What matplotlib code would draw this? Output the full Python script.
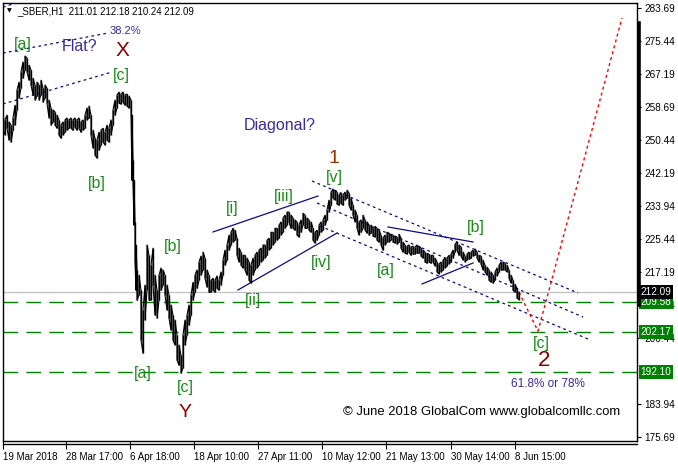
import matplotlib
matplotlib.use('Agg')
import matplotlib.pyplot as plt
from matplotlib.lines import Line2D
from matplotlib.transforms import blended_transform_factory

plt.rcParams['font.family'] = ['Liberation Sans', 'DejaVu Sans']

# ---------------- data (bar position, high, low) ----------------
bar_idx = [3, 5, 7, 9, 11, 13, 15, 17, 19, 21, 23, 25, 27, 29, 31, 33, 35, 37, 39, 41,
           43, 45, 47, 49, 51, 53, 55, 57, 59, 61, 63, 65, 67, 69, 71, 73, 75, 77, 79, 81,
           83, 85, 87, 89, 91, 93, 95, 97, 99, 101, 103, 105, 107, 109, 111, 113, 115, 117, 119, 121,
           123, 125, 127, 129, 131, 132, 133, 134, 135, 136, 137, 139, 141, 143, 145, 147, 149, 151, 153, 155,
           157, 159, 161, 163, 165, 167, 169, 171, 173, 175, 177, 179, 181, 183, 185, 187, 189, 191, 193, 195,
           197, 199, 201, 203, 205, 207, 209, 211, 213, 215, 217, 219, 221, 223, 225, 227, 229, 231, 233, 235,
           237, 239, 241, 243, 245, 247, 249, 251, 253, 255, 257, 259, 261, 263, 265, 267, 269, 271, 273, 275,
           277, 279, 281, 283, 285, 287, 289, 291, 293, 295, 297, 299, 301, 303, 305, 307, 309, 311, 313, 315,
           317, 319, 321, 323, 325, 327, 329, 331, 333, 335, 337, 339, 341, 343, 345, 347, 349, 351, 353, 355,
           357, 359, 361, 363, 365, 367, 369, 371, 373, 375, 377, 379, 381, 383, 385, 387, 389, 391, 393, 395,
           397, 399, 401, 403, 405, 407, 409, 411, 413, 415, 417, 419, 421, 423, 425, 427, 429, 431, 433, 435,
           437, 439, 441, 443, 445, 447, 449, 451, 453, 455, 457, 459, 461, 463, 465, 467, 469, 471, 473, 475,
           477, 479, 481, 483, 485, 487, 489, 491, 493, 495, 497, 499, 501, 503, 505, 507, 509, 511, 513, 515,
           517, 519]
high = [256.2, 255.5, 256.7, 255.0, 254.2, 256.0, 259.2, 263.0, 265.0, 267.6, 270.1, 271.6, 271.1, 269.3, 268.1, 266.0, 264.3, 265.0, 264.3, 265.5,
        263.5, 264.3, 263.5, 260.5, 258.5, 258.0, 257.5, 256.7, 255.5, 254.2, 255.0, 255.5, 256.0, 255.5, 256.0, 255.5, 256.0, 255.5, 256.0, 255.0,
        255.5, 256.7, 258.5, 259.0, 256.7, 252.9, 250.9, 250.4, 252.4, 252.9, 253.4, 252.4, 254.2, 253.4, 255.5, 258.0, 260.5, 261.8, 262.5, 262.0,
        262.5, 261.8, 262.0, 261.5, 260.5, 256.7, 245.4, 240.3, 229.8, 224.0, 217.7, 216.4, 212.6, 207.6, 213.9, 224.0, 221.4, 218.9, 223.2, 216.4,
        212.6, 216.4, 218.2, 217.7, 216.4, 213.9, 211.4, 208.9, 206.3, 205.1, 201.3, 198.8, 196.2, 201.3, 205.1, 206.3, 208.9, 211.4, 214.6, 216.4,
        217.7, 219.7, 221.2, 222.2, 220.7, 217.7, 216.4, 215.1, 215.6, 215.1, 216.2, 215.1, 217.2, 220.2, 222.7, 224.0, 226.5, 227.2, 228.2, 227.7,
        225.7, 223.2, 222.2, 221.4, 221.4, 220.7, 219.7, 218.9, 220.7, 221.4, 222.2, 222.7, 223.2, 224.0, 224.0, 225.2, 225.7, 227.2, 227.2, 228.2,
        228.2, 229.0, 229.8, 230.8, 231.5, 232.3, 232.3, 231.5, 230.8, 230.3, 229.8, 229.0, 230.3, 232.0, 231.5, 230.8, 230.3, 229.8, 228.2, 227.2,
        227.7, 229.0, 229.8, 230.3, 231.5, 232.8, 235.3, 237.3, 238.1, 237.8, 237.3, 236.6, 237.1, 236.6, 237.3, 237.8, 237.1, 235.8, 234.0, 232.8,
        231.5, 229.8, 230.3, 231.5, 230.3, 229.8, 229.0, 229.0, 228.2, 228.7, 228.2, 227.7, 226.5, 225.7, 226.5, 227.2, 227.0, 226.7, 226.5, 226.2,
        226.0, 226.7, 225.7, 224.7, 224.0, 223.7, 224.0, 223.5, 223.7, 223.5, 224.0, 223.7, 223.2, 222.7, 222.2, 221.9, 221.7, 221.4, 221.4, 220.7,
        219.7, 219.2, 219.7, 220.2, 220.7, 220.7, 221.4, 221.7, 222.7, 224.2, 224.7, 224.0, 223.5, 222.2, 221.2, 221.7, 222.2, 222.2, 222.7, 223.0,
        222.2, 221.4, 221.2, 220.2, 218.9, 218.4, 217.7, 217.2, 216.4, 217.2, 218.2, 218.9, 219.7, 219.7, 219.4, 218.9, 217.7, 216.4, 215.1, 214.1,
        213.1, 212.18]
low = [252.9, 251.7, 253.4, 250.4, 249.9, 252.9, 254.2, 258.0, 261.0, 263.5, 266.0, 268.1, 267.6, 265.5, 264.3, 261.8, 260.5, 261.5, 260.5, 261.8,
       260.0, 261.0, 259.7, 256.0, 254.2, 255.0, 254.2, 253.4, 251.7, 250.9, 251.7, 252.4, 252.9, 253.4, 253.4, 252.9, 253.7, 252.9, 253.4, 252.4,
       252.9, 253.4, 255.5, 256.0, 251.7, 248.4, 246.6, 245.9, 247.9, 249.2, 249.9, 249.2, 250.4, 249.9, 251.7, 254.2, 256.7, 258.5, 259.7, 259.5,
       260.0, 259.2, 259.0, 258.5, 256.7, 240.3, 239.1, 229.0, 219.7, 212.6, 210.1, 211.4, 200.0, 196.7, 205.1, 212.6, 210.1, 210.1, 213.9, 206.3,
       205.6, 210.1, 212.6, 213.9, 211.4, 207.6, 205.6, 202.5, 200.0, 198.8, 195.0, 193.7, 191.7, 193.0, 198.8, 201.3, 203.8, 206.3, 210.1, 212.1,
       213.1, 215.1, 216.4, 217.7, 215.6, 213.4, 212.1, 212.1, 212.6, 212.1, 213.1, 212.6, 213.9, 216.4, 218.9, 220.2, 222.7, 224.0, 224.7, 225.2,
       221.4, 219.7, 218.9, 218.2, 217.7, 216.4, 215.1, 214.4, 216.4, 217.7, 218.2, 218.9, 219.7, 220.2, 220.7, 221.4, 222.7, 223.2, 224.0, 224.7,
       225.2, 225.7, 226.5, 227.2, 228.2, 229.0, 229.8, 228.2, 228.2, 227.7, 226.5, 226.0, 227.2, 229.0, 228.2, 228.2, 227.7, 227.2, 225.2, 224.5,
       225.2, 226.5, 227.2, 227.7, 229.0, 230.3, 232.3, 234.0, 235.8, 235.3, 234.3, 234.0, 234.5, 234.0, 235.3, 235.8, 234.0, 232.8, 231.5, 229.8,
       228.2, 226.5, 227.2, 228.2, 227.7, 227.0, 226.5, 227.0, 226.2, 226.0, 225.2, 224.7, 224.0, 222.7, 224.0, 224.7, 224.7, 225.2, 224.7, 224.5,
       224.2, 224.7, 223.2, 222.2, 221.9, 221.7, 222.2, 221.4, 221.7, 221.7, 221.9, 221.9, 221.2, 220.7, 219.7, 219.4, 219.7, 219.4, 219.7, 218.7,
       217.2, 216.7, 217.2, 217.7, 218.2, 218.7, 219.2, 219.7, 220.7, 222.2, 222.7, 221.4, 221.2, 220.2, 219.7, 220.2, 220.4, 220.7, 221.2, 221.4,
       220.7, 219.7, 219.2, 217.7, 217.2, 216.4, 215.1, 214.6, 214.4, 215.1, 216.2, 217.2, 217.7, 217.7, 217.7, 217.2, 215.6, 214.4, 212.6, 212.1,
       210.6, 210.24]

# horizontal levels
last_price = 212.09
fib_levels = [209.58, 202.17, 192.10]

# y axis ticks (192.19 sits fully under the 192.10 box, so it is not drawn)
y_ticks = [283.69, 275.44, 267.19, 258.69, 250.44, 242.19, 233.94, 225.44, 217.19,
           208.94, 200.44, 183.94, 175.69]
# x axis labels
x_tick_pos = [3, 66, 130, 194, 258, 322, 386, 451, 515]
x_tick_labels = ['19 Mar 2018', '28 Mar 17:00', '6 Apr 18:00', '18 Apr 10:00', '27 Apr 11:00',
                 '10 May 12:00', '21 May 13:00', '30 May 14:00', '8 Jun 15:00']

# annotation lines ((bar, price), (bar, price))
flat_top = [(3, 283.9), (16, 284.95)]
flat_upper = [(3, 272.35), (108, 277.39)]
flat_lower = [(3, 259.51), (112, 267.57)]
diag_upper = [(213, 227.27), (318, 236.33)]
diag_lower = [(238, 212.66), (337, 227.01)]
chan_top = [(312, 240.11), (578, 211.90)]
chan_mid = [(317, 234.57), (583, 205.86)]
chan_bot = [(320, 228.78), (588, 200.31)]
b_upper = [(388, 228.53), (473, 224.75)]
b_lower = [(422, 214.17), (473, 219.46)]
red_path_x = [519, 538, 622]
red_path_y = [212.1, 202.3, 281.2]

# wave labels (text, bar, price, colour, size)
GREEN = '#1a8a1a'
PURP = '#3b2a9a'
DRED = '#8b0000'
labels = [
    ('[a]', 23, 274.6, GREEN, 11.5), ('Flat?', 80, 274.1, PURP, 11.5), ('X', 122, 273.0, DRED, 15),
    ('38.2%', 125, 277.9, PURP, 8), ('[c]', 121, 266.6, GREEN, 11.5), ('[b]', 97, 239.4, GREEN, 11.5),
    ('Diagonal?', 280, 254.0, PURP, 11.5), ('[b]', 173, 223.5, GREEN, 11.5), ('[i]', 232, 233.3, GREEN, 11.5),
    ('[iii]', 284, 236.1, GREEN, 11.5), ('1', 334, 245.9, '#993300', 14), ('[v]', 334, 240.9, GREEN, 11.5),
    ('[iv]', 321, 219.7, GREEN, 11.5), ('[ii]', 253, 210.1, GREEN, 11.5), ('[a]', 386, 217.5, GREEN, 11.5),
    ('[b]', 476, 228.3, GREEN, 11.5), ('[a]', 143, 191.5, GREEN, 11.5), ('[c]', 185, 188.0, GREEN, 11.5),
    ('Y', 185, 181.9, DRED, 14), ('[c]', 541, 199.3, GREEN, 11.5), ('2', 544, 195.0, DRED, 16),
    ('61.8% or 78%', 548, 189.0, PURP, 8.5),
]

# ---------------- figure ----------------
W, H = 678, 466
fig = plt.figure(figsize=(W / 100, H / 100), dpi=100)
L, R, T, B = 3, 637, 3, 441
ax = fig.add_axes([L / W, 1 - B / H, (R - L) / W, (B - T) / H])
ax.set_xlim(3, 637)
ax.set_ylim(174.62, 284.95)
for s in ax.spines.values():
    s.set_linewidth(1.0)
    s.set_color('black')

# levels
ax.axhline(last_price, color='#c0c0c0', lw=0.9, zorder=1)
for lv in fib_levels:
    ax.axhline(lv, color='#008000', lw=1.0, dashes=(10.5, 6), zorder=1)

# price bars (thin OHLC-like sticks joined by a thin line)
ax.vlines(bar_idx, low, high, color='black', lw=1.0, zorder=3)
zig_x, zig_y = [], []
for i, (x, h, l) in enumerate(zip(bar_idx, high, low)):
    zig_x += [x, x]
    zig_y += ([h, l] if i % 2 == 0 else [l, h])
ax.plot(zig_x, zig_y, color='black', lw=0.8, zorder=3)

NAVY = '#0a0a8a'
def seg(pts, **kw):
    ax.plot([p[0] for p in pts], [p[1] for p in pts], **kw)

for pts in [flat_top, flat_upper, flat_lower, chan_top, chan_mid, chan_bot]:
    seg(pts, color=NAVY, lw=0.9, dashes=(2.2, 2.6), zorder=2)
for pts in [diag_upper, diag_lower, b_upper, b_lower]:
    seg(pts, color=NAVY, lw=0.9, zorder=2)
ax.plot(red_path_x, red_path_y, color='red', lw=1.0, dashes=(2.2, 2.2), zorder=2)

for txt, x, y, c, fs in labels:
    ax.text(x, y, txt, color=c, fontsize=fs, ha='center', va='center', zorder=4)

ax.text(482, 182.0, '\u00a9 June 2018 GlobalCom www.globalcomllc.com', color='black',
        fontsize=9.4, ha='center', va='center', zorder=4)

# axes ticks
ax.yaxis.tick_right()
ax.set_yticks(y_ticks)
ax.set_yticklabels(['%.2f' % v for v in y_ticks], fontsize=7.2)
ax.tick_params(axis='y', length=3, width=0.8, pad=2)
ax.set_xticks(x_tick_pos)
ax.set_xticklabels(x_tick_labels, fontsize=7.0, ha='left')
ax.tick_params(axis='x', length=6, width=0.8, pad=2)

# right price boxes
bt = blended_transform_factory(ax.transAxes, ax.transData)
for lv in fib_levels:
    ax.text(1.0055, lv, '%.2f' % lv, transform=bt, color='white', fontsize=7.2,
            va='center', ha='left', clip_on=False, zorder=6,
            bbox=dict(facecolor='#008000', edgecolor='none', pad=1.4))
ax.text(1.0055, last_price, '%.2f' % last_price, transform=bt, color='white', fontsize=7.2,
        va='center', ha='left', clip_on=False, zorder=6,
        bbox=dict(facecolor='black', edgecolor='none', pad=1.4))

# extra frame pieces
fig.add_artist(Line2D([L / W, R / W], [1 - 444 / H, 1 - 444 / H], color='black', lw=1.0))
fig.add_artist(Line2D([638.5 / W, 638.5 / W], [1 - 23 / H, 1 - 305 / H], color='black', lw=2.6))

# header
fig.text(7 / W, 1 - 11 / H, '\u25bc', fontsize=4.5, va='center', ha='left', family='DejaVu Sans')
fig.text(17 / W, 1 - 11 / H, '_SBER,H1  211.01 212.18 210.24 212.09', fontsize=6.9,
         va='center', ha='left')

fig.savefig('out.png', dpi=100)
